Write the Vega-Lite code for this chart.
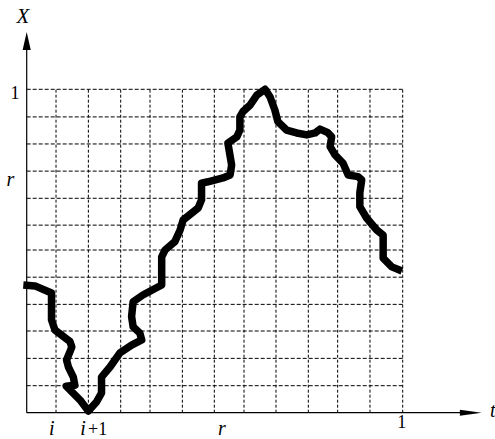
{
  "$schema": "https://vega.github.io/schema/vega-lite/v6.json",
  "width": 495,
  "height": 439,
  "autosize": {"type": "none"},
  "padding": 0,
  "background": "white",
  "config": {"view": {"stroke": null}, "axisX": {"disable": true}, "axisY": {"disable": true}},
  "layer": [
    {
      "data": {"values": [{"v": 0.078}, {"v": 0.164}, {"v": 0.250}, {"v": 0.328}, {"v": 0.414}, {"v": 0.499}, {"v": 0.578}, {"v": 0.663}, {"v": 0.749}, {"v": 0.827}, {"v": 0.913}, {"v": 1.0}]},
      "mark": {"type": "rule", "color": "#000", "strokeWidth": 1, "strokeDash": [3, 2]},
      "encoding": {
        "x": {"field": "v", "type": "quantitative", "scale": {"domain": [-0.07101, 1.24548], "nice": false, "zero": false}},
        "y": {"datum": 0, "type": "quantitative", "scale": {"domain": [-0.08132, 1.27613], "nice": false, "zero": false}},
        "y2": {"datum": 1}
      }
    },
    {
      "data": {"values": [{"v": 0.0835}, {"v": 0.168}, {"v": 0.2526}, {"v": 0.335}, {"v": 0.419}, {"v": 0.503}, {"v": 0.580}, {"v": 0.663}, {"v": 0.747}, {"v": 0.831}, {"v": 0.9146}, {"v": 1.0}]},
      "mark": {"type": "rule", "color": "#000", "strokeWidth": 1, "strokeDash": [4, 2]},
      "encoding": {
        "y": {"field": "v", "type": "quantitative", "scale": {"domain": [-0.08132, 1.27613], "nice": false, "zero": false}},
        "x": {"datum": 0, "type": "quantitative", "scale": {"domain": [-0.07101, 1.24548], "nice": false, "zero": false}},
        "x2": {"datum": 1}
      }
    },
    {
      "data": {"values": [{}]},
      "mark": {"type": "rule", "color": "#000", "strokeWidth": 1.2},
      "encoding": {
        "x": {"datum": 0, "type": "quantitative", "scale": {"domain": [-0.07101, 1.24548], "nice": false, "zero": false}},
        "y": {"datum": 0, "type": "quantitative", "scale": {"domain": [-0.08132, 1.27613], "nice": false, "zero": false}},
        "y2": {"datum": 1.13}
      }
    },
    {
      "data": {"values": [{}]},
      "mark": {"type": "rule", "color": "#000", "strokeWidth": 1.2},
      "encoding": {
        "y": {"datum": 0, "type": "quantitative", "scale": {"domain": [-0.08132, 1.27613], "nice": false, "zero": false}},
        "x": {"datum": 0, "type": "quantitative", "scale": {"domain": [-0.07101, 1.24548], "nice": false, "zero": false}},
        "x2": {"datum": 1.17}
      }
    },
    {
      "data": {"values": [{}]},
      "mark": {"type": "point", "filled": true, "color": "#000", "opacity": 1, "shape": "M0,-1L0.45,1L-0.45,1Z", "size": 324, "strokeWidth": 0},
      "encoding": {
        "x": {"datum": 0, "type": "quantitative", "scale": {"domain": [-0.07101, 1.24548], "nice": false, "zero": false}},
        "y": {"datum": 1.149, "type": "quantitative", "scale": {"domain": [-0.08132, 1.27613], "nice": false, "zero": false}}
      }
    },
    {
      "data": {"values": [{}]},
      "mark": {"type": "point", "filled": true, "color": "#000", "opacity": 1, "shape": "M1,0L-1,-0.28L-1,0.28Z", "size": 471, "strokeWidth": 0},
      "encoding": {
        "x": {"datum": 1.181, "type": "quantitative", "scale": {"domain": [-0.07101, 1.24548], "nice": false, "zero": false}},
        "y": {"datum": 0, "type": "quantitative", "scale": {"domain": [-0.08132, 1.27613], "nice": false, "zero": false}}
      }
    },
    {
      "data": {"values": [
        {"i": 1, "x": -0.009, "y": 0.395},
        {"i": 2, "x": 0.022, "y": 0.392},
        {"i": 3, "x": 0.066, "y": 0.370},
        {"i": 4, "x": 0.066, "y": 0.287},
        {"i": 5, "x": 0.075, "y": 0.256},
        {"i": 6, "x": 0.115, "y": 0.220},
        {"i": 7, "x": 0.120, "y": 0.203},
        {"i": 8, "x": 0.106, "y": 0.163},
        {"i": 9, "x": 0.111, "y": 0.141},
        {"i": 10, "x": 0.124, "y": 0.110},
        {"i": 11, "x": 0.128, "y": 0.085},
        {"i": 12, "x": 0.105, "y": 0.082},
        {"i": 13, "x": 0.142, "y": 0.039},
        {"i": 14, "x": 0.164, "y": 0.005},
        {"i": 15, "x": 0.186, "y": 0.034},
        {"i": 16, "x": 0.199, "y": 0.061},
        {"i": 17, "x": 0.199, "y": 0.110},
        {"i": 18, "x": 0.222, "y": 0.142},
        {"i": 19, "x": 0.248, "y": 0.185},
        {"i": 20, "x": 0.279, "y": 0.209},
        {"i": 21, "x": 0.306, "y": 0.225},
        {"i": 22, "x": 0.301, "y": 0.246},
        {"i": 23, "x": 0.283, "y": 0.266},
        {"i": 24, "x": 0.279, "y": 0.297},
        {"i": 25, "x": 0.283, "y": 0.343},
        {"i": 26, "x": 0.309, "y": 0.364},
        {"i": 27, "x": 0.359, "y": 0.395},
        {"i": 28, "x": 0.359, "y": 0.482},
        {"i": 29, "x": 0.368, "y": 0.503},
        {"i": 30, "x": 0.394, "y": 0.529},
        {"i": 31, "x": 0.408, "y": 0.565},
        {"i": 32, "x": 0.416, "y": 0.596},
        {"i": 33, "x": 0.456, "y": 0.633},
        {"i": 34, "x": 0.465, "y": 0.658},
        {"i": 35, "x": 0.465, "y": 0.710},
        {"i": 36, "x": 0.482, "y": 0.714},
        {"i": 37, "x": 0.522, "y": 0.726},
        {"i": 38, "x": 0.541, "y": 0.735},
        {"i": 39, "x": 0.545, "y": 0.766},
        {"i": 40, "x": 0.535, "y": 0.834},
        {"i": 41, "x": 0.559, "y": 0.853},
        {"i": 42, "x": 0.567, "y": 0.874},
        {"i": 43, "x": 0.567, "y": 0.915},
        {"i": 44, "x": 0.575, "y": 0.931},
        {"i": 45, "x": 0.594, "y": 0.951},
        {"i": 46, "x": 0.612, "y": 0.982},
        {"i": 47, "x": 0.634, "y": 1.0},
        {"i": 48, "x": 0.647, "y": 0.977},
        {"i": 49, "x": 0.660, "y": 0.936},
        {"i": 50, "x": 0.668, "y": 0.900},
        {"i": 51, "x": 0.691, "y": 0.874},
        {"i": 52, "x": 0.718, "y": 0.865},
        {"i": 53, "x": 0.745, "y": 0.859},
        {"i": 54, "x": 0.767, "y": 0.865},
        {"i": 55, "x": 0.780, "y": 0.877},
        {"i": 56, "x": 0.801, "y": 0.866},
        {"i": 57, "x": 0.811, "y": 0.853},
        {"i": 58, "x": 0.807, "y": 0.823},
        {"i": 59, "x": 0.820, "y": 0.797},
        {"i": 60, "x": 0.841, "y": 0.772},
        {"i": 61, "x": 0.855, "y": 0.735},
        {"i": 62, "x": 0.881, "y": 0.730},
        {"i": 63, "x": 0.891, "y": 0.720},
        {"i": 64, "x": 0.886, "y": 0.680},
        {"i": 65, "x": 0.886, "y": 0.637},
        {"i": 66, "x": 0.904, "y": 0.602},
        {"i": 67, "x": 0.931, "y": 0.565},
        {"i": 68, "x": 0.948, "y": 0.549},
        {"i": 69, "x": 0.948, "y": 0.478},
        {"i": 70, "x": 0.971, "y": 0.451},
        {"i": 71, "x": 0.998, "y": 0.438}
      ]},
      "mark": {"type": "line", "color": "#000", "strokeWidth": 7.5, "strokeJoin": "round", "strokeCap": "butt"},
      "encoding": {
        "x": {"field": "x", "type": "quantitative", "scale": {"domain": [-0.07101, 1.24548], "nice": false, "zero": false}},
        "y": {"field": "y", "type": "quantitative", "scale": {"domain": [-0.08132, 1.27613], "nice": false, "zero": false}},
        "order": {"field": "i", "type": "quantitative"}
      }
    },
    {
      "data": {"values": [
        {"label": "X", "x": -0.010, "y": 1.2035}
      ]},
      "mark": {"type": "text", "font": "Liberation Serif", "fontStyle": "italic", "fontSize": 21, "align": "center", "baseline": "alphabetic", "color": "#000"},
      "encoding": {
        "x": {"field": "x", "type": "quantitative", "scale": {"domain": [-0.07101, 1.24548], "nice": false, "zero": false}},
        "y": {"field": "y", "type": "quantitative", "scale": {"domain": [-0.08132, 1.27613], "nice": false, "zero": false}},
        "text": {"field": "label"}
      }
    },
    {
      "data": {"values": [
        {"label": "r", "x": -0.0436, "y": 0.702},
        {"label": "i", "x": 0.067, "y": -0.068},
        {"label": "i", "x": 0.150, "y": -0.068},
        {"label": "r", "x": 0.519, "y": -0.068}
      ]},
      "mark": {"type": "text", "font": "Liberation Serif", "fontStyle": "italic", "fontSize": 20, "align": "center", "baseline": "alphabetic", "color": "#000"},
      "encoding": {
        "x": {"field": "x", "type": "quantitative", "scale": {"domain": [-0.07101, 1.24548], "nice": false, "zero": false}},
        "y": {"field": "y", "type": "quantitative", "scale": {"domain": [-0.08132, 1.27613], "nice": false, "zero": false}},
        "text": {"field": "label"}
      }
    },
    {
      "data": {"values": [
        {"label": "t", "x": 1.232, "y": -0.012}
      ]},
      "mark": {"type": "text", "font": "Liberation Serif", "fontStyle": "italic", "fontSize": 20, "align": "left", "baseline": "alphabetic", "color": "#000"},
      "encoding": {
        "x": {"field": "x", "type": "quantitative", "scale": {"domain": [-0.07101, 1.24548], "nice": false, "zero": false}},
        "y": {"field": "y", "type": "quantitative", "scale": {"domain": [-0.08132, 1.27613], "nice": false, "zero": false}},
        "text": {"field": "label"}
      }
    },
    {
      "data": {"values": [
        {"label": "1", "x": -0.031, "y": 0.9685},
        {"label": "1", "x": 0.9976, "y": -0.048}
      ]},
      "mark": {"type": "text", "font": "Liberation Serif", "fontSize": 18, "align": "center", "baseline": "alphabetic", "color": "#000"},
      "encoding": {
        "x": {"field": "x", "type": "quantitative", "scale": {"domain": [-0.07101, 1.24548], "nice": false, "zero": false}},
        "y": {"field": "y", "type": "quantitative", "scale": {"domain": [-0.08132, 1.27613], "nice": false, "zero": false}},
        "text": {"field": "label"}
      }
    },
    {
      "data": {"values": [
        {"label": "+1", "x": 0.163, "y": -0.068}
      ]},
      "mark": {"type": "text", "font": "Liberation Serif", "fontSize": 18, "align": "left", "baseline": "alphabetic", "color": "#000"},
      "encoding": {
        "x": {"field": "x", "type": "quantitative", "scale": {"domain": [-0.07101, 1.24548], "nice": false, "zero": false}},
        "y": {"field": "y", "type": "quantitative", "scale": {"domain": [-0.08132, 1.27613], "nice": false, "zero": false}},
        "text": {"field": "label"}
      }
    }
  ]
}
